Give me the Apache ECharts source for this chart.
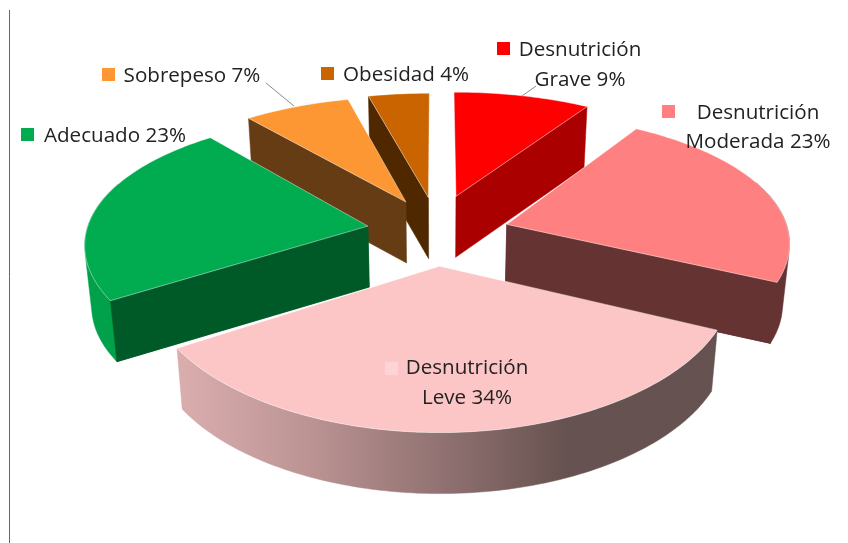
<!DOCTYPE html>
<html><head><meta charset="utf-8">
<style>html,body{margin:0;padding:0;background:#fff}#c{width:848px;height:543px}</style>
<script src="https://cdn.jsdelivr.net/npm/echarts@6/dist/echarts.min.js"></script>
</head><body><div id="c"></div>
<script>
const categories = ['Desnutrición Grave','Desnutrición Moderada','Desnutrición Leve','Adecuado','Sobrepeso','Obesidad'];
const values = [9,23,34,23,7,4];
const topColors = ['#ff0000','#ff8080','#fcc6c6','#00ac4f','#fd9733','#c96400'];
const wallColors = ['#ab0000','#663333','#665250','#005a27','#663c14','#4f2800'];
const explode = [0.25,0.26,0.30,0.25,0.25,0.25];
const lift = [0,0.06,0,0.04,0.03,0.02];
const sideways = [0,0,-0.01,0,0,0];
const drawOrder = [5,4,0,3,1,2];
// view settings of the tilted pie
const cx=437, cy=226, A=280, B=128, PX=0.12, PY=0.15, H=61, SHRINK=0.02;

const total = values.reduce((a,b)=>a+b,0);
const starts = []; let acc=0;
values.forEach(v=>{starts.push(acc/total*Math.PI*2); acc+=v;});

function project(X,Y,low){
  const sx=1/(1-PX*Y), sy=1/(1-PY*Y);
  const k=low?1-SHRINK:1;
  return [cx+A*X*sx*k, cy+B*Y*sy+(low?H:0)];
}
function slicePts(i){
  const a0=starts[i], a1=a0+values[i]/total*Math.PI*2, mid=(a0+a1)/2;
  const ox=Math.sin(mid)*explode[i]+sideways[i], oy=-Math.cos(mid)*explode[i]+lift[i];
  const rim=(t,low)=>project(ox+Math.sin(t),oy-Math.cos(t),low);
  const apex=low=>project(ox,oy,low);
  return {a0,a1,rim,apex};
}
function arcPts(a,b,fn){const n=Math.max(2,Math.ceil((b-a)/0.02));const r=[];for(let j=0;j<=n;j++)r.push(fn(a+(b-a)*j/n));return r;}
function hull(pts){
  const s=pts.slice().sort((a,b)=>a[0]-b[0]||a[1]-b[1]);
  const cross=(o,a,b)=>(a[0]-o[0])*(b[1]-o[1])-(a[1]-o[1])*(b[0]-o[0]);
  const lo=[],hi=[];
  s.forEach(p=>{while(lo.length>1&&cross(lo[lo.length-2],lo[lo.length-1],p)<=0)lo.pop();lo.push(p);});
  s.slice().reverse().forEach(p=>{while(hi.length>1&&cross(hi[hi.length-2],hi[hi.length-1],p)<=0)hi.pop();hi.push(p);});
  return lo.slice(0,-1).concat(hi.slice(0,-1));
}

const leveGradient = new echarts.graphic.LinearGradient(0,0,1,0,[
  {offset:0,color:'#dbaeae'},{offset:0.25,color:'#bb9393'},{offset:0.5,color:'#8f7070'},{offset:0.72,color:'#665250'},{offset:1,color:'#665250'}]);

function renderSlice(params,api){
  const i=api.value(0);
  const p=slicePts(i), ch=[];
  const wall=(pts,fill)=>ch.push({type:'polygon',shape:{points:pts},style:{fill,stroke:fill,lineWidth:0.5}});
  if(Math.sin(p.a0)<-1e-6) wall([p.apex(false),p.rim(p.a0,false),p.rim(p.a0,true),p.apex(true)],wallColors[i]);
  if(Math.sin(p.a1)>1e-6) wall([p.apex(false),p.rim(p.a1,false),p.rim(p.a1,true),p.apex(true)],wallColors[i]);
  const f0=Math.max(p.a0,Math.PI/2-0.35), f1=Math.min(p.a1,Math.PI*1.5+0.35);
  if(f1>f0){
    const up=arcPts(f0,f1,t=>p.rim(t,false)), dn=arcPts(f0,f1,t=>p.rim(t,true));
    if(i===2){
      wall(up.concat(dn.slice().reverse()),leveGradient);
    } else {
      // the rim wall is drawn as a hull so its silhouette joins the two arcs
      const fill = i===3?'#00a14a':wallColors[i];
      wall(hull(up.concat(dn)),fill);
      // the end wall stays on top of the rim wall
      if(i===3) wall([p.apex(false),p.rim(p.a0,false),p.rim(p.a0,true),p.apex(true)],wallColors[i]);
      if(i===1) wall([p.apex(false),p.rim(p.a1,false),p.rim(p.a1,true),p.apex(true)],wallColors[i]);
    }
  }
  const top=[p.apex(false)].concat(arcPts(p.a0,p.a1,t=>p.rim(t,false)));
  ch.push({type:'polygon',shape:{points:top},style:{fill:topColors[i],stroke:'rgba(255,255,255,0.55)',lineWidth:0.8}});
  return {type:'group',children:ch};
}

const labelFont='20.6px "Open Sans"', textColor='#222';
const labels=[
 {lines:['Desnutrición'],x:580,y:50,key:[497,42,'#ff0000']},
 {lines:['Grave 9%'],x:580,y:80},
 {lines:['Desnutrición'],x:758,y:113,key:[662,105,'#ff8080']},
 {lines:['Moderada 23%'],x:758,y:142},
 {lines:['Desnutrición'],x:467,y:368,key:[385,362,'#fdd3d3']},
 {lines:['Leve 34%'],x:467,y:398},
 {lines:['Adecuado 23%'],x:115,y:136,key:[21,128,'#00ac4f']},
 {lines:['Sobrepeso 7%'],x:192,y:76,key:[102,68,'#fd9733']},
 {lines:['Obesidad 4%'],x:406,y:75,key:[321,67,'#c96400']}
];
const graphics=[
 {type:'line',shape:{x1:9.5,y1:10,x2:9.5,y2:543},style:{stroke:'#5c5cb4',lineWidth:1}},
 {type:'line',shape:{x1:266,y1:83,x2:294,y2:106},style:{stroke:'#8a8a8a',lineWidth:1}},
 {type:'line',shape:{x1:536,y1:86,x2:522,y2:96},style:{stroke:'#8a8a8a',lineWidth:1}}
];
labels.forEach(l=>{
  if(l.key) graphics.push({type:'rect',shape:{x:l.key[0],y:l.key[1],width:13,height:13},style:{fill:l.key[2]},z:5});
  graphics.push({type:'text',x:l.x,y:l.y,z:6,style:{text:l.lines[0],font:labelFont,fill:textColor,align:'center',verticalAlign:'middle'}});
});

const chart=echarts.init(document.getElementById('c'),null,{renderer:'canvas'});
chart.setOption({
  animation:false,
  backgroundColor:'#fff',
  series:[{type:'custom',coordinateSystem:'none',renderItem:renderSlice,
    data:drawOrder.map(i=>({name:categories[i],value:[i,values[i]]})),silent:true}],
  graphic:{elements:graphics}
});
</script></body></html>
